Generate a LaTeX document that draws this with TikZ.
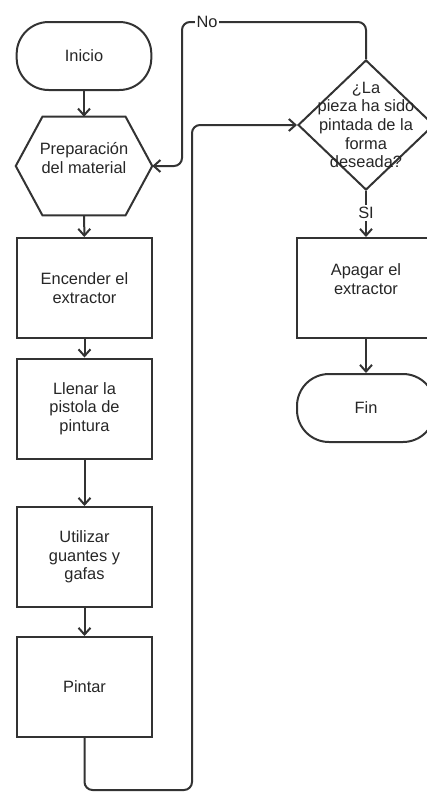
\documentclass[tikz,border=0pt]{standalone}
\usepackage{fontspec}
\setmainfont{Liberation Sans}
\usetikzlibrary{positioning}
\usetikzlibrary{shapes.geometric}
\usetikzlibrary{arrows.meta}

\begin{document}
\begin{tikzpicture}[
    x=0.75pt, y=-0.75pt,
    >={Straight Barb[length=5pt,width=9pt]},
    every node/.style={font=\fontsize{12.3}{14}\selectfont, text=black!85},
    terminal/.style={rectangle, draw=black!80, line width=1.5pt, rounded corners=24pt, minimum width=101pt, minimum height=51pt},
    process/.style={rectangle, draw=black!80, line width=1.5pt, minimum width=101pt, minimum height=75pt, align=center},
    frame/.style={rectangle, minimum width=102pt, minimum height=73.5pt, inner sep=0pt},
    decision/.style={diamond, draw=black!80, line width=1.5pt, minimum width=102pt, minimum height=97.5pt, inner sep=0pt},
    boxtext/.style={align=center},
    flow/.style={->, draw=black!80, line width=1.5pt, rounded corners=6pt},
    tag/.style={fill=white, inner sep=1.5pt}
]
    \useasboundingbox (0,0) rectangle (426,793);

    % Left column
    \node[terminal] (inicio) at (84,56) {Inicio};

    \node[frame] (prep) at (84,166) {};
    \draw[line width=1.5pt, draw=black!80] (prep.west) -- ([xshift=20pt]prep.north west) -- ([xshift=-20pt]prep.north east) -- (prep.east) -- ([xshift=-20pt]prep.south east) -- ([xshift=20pt]prep.south west) -- cycle;
    \node[boxtext] (preptxt) at (84,158) {Preparación\\del material};

    \node[process] (encender) at (84.5,288) {Encender el\\extractor};
    \node[process] (llenar) at (84.5,408.5) {Llenar la\\pistola de\\pintura};
    \node[process] (utilizar) at (84.5,557) {Utilizar\\guantes y\\gafas};
    \node[process] (pintar) at (84.5,687) {Pintar};

    % Right column
    \node[decision] (pregunta) at (366,125) {};
    \node[boxtext] (preguntatxt) at (366,125) {¿La\\pieza ha sido\\pintada de la\\forma\\deseada?};

    \node[process, minimum width=103.5pt] (apagar) at (366,288) {};
    \node[boxtext] (apagartxt) at (366,279) {Apagar el\\extractor};

    \node[terminal, minimum width=103.5pt] (fin) at (366,408) {Fin};

    % Flow
    \draw[flow] (inicio) -- (prep);
    \draw[flow] (prep) -- (encender);
    \draw[flow] (encender) -- (llenar);
    \draw[flow] (llenar) -- (utilizar);
    \draw[flow] (utilizar) -- (pintar);

    \coordinate (loopbottom) at (192,790);
    \draw[flow] (pintar.south) -- (pintar.south |- loopbottom) -- (loopbottom) -- (loopbottom |- pregunta.west) -- (pregunta.west);

    \coordinate (notop) at (182,22);
    \draw[flow] (pregunta.north) -- (pregunta.north |- notop) -- (notop) -- (notop |- prep.east) -- (prep.east);
    \node[tag] (no) at (207,22) {No};

    \draw[flow] (pregunta) -- (apagar);
    \node[tag] (si) at (366,213) {SI};

    \draw[flow] (apagar) -- (fin);
\end{tikzpicture}
\end{document}
